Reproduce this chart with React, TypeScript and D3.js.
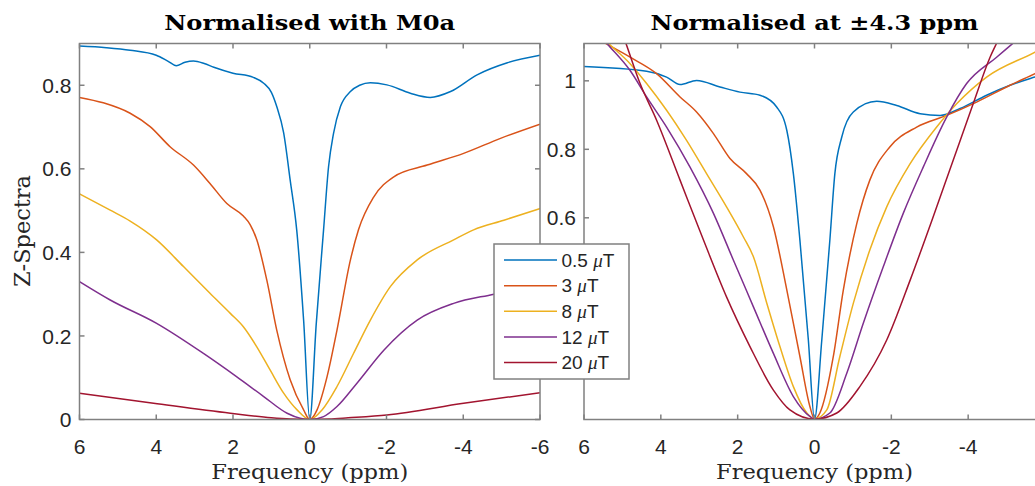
import React from "react";
import * as d3 from "d3";

type Pt = [number, number];

const freqTicks = [6, 4, 2, 0, -2, -4, -6];
const rightFreqTicks = [6, 4, 2, 0, -2, -4];
const leftYTicks = [0, 0.2, 0.4, 0.6, 0.8];
const rightYTicks = [0.6, 0.8, 1];
const seriesLabels = ["0.5", "3", "8", "12", "20"];
const seriesColors = ["#0072BD", "#D95319", "#EDB120", "#7E2F8E", "#A2142F"];

// Left panel: normalised with M0a
const leftB05: Pt[] = [[6,0.894],[5.3,0.89],[4.68,0.884],[4,0.872],[3.7,0.858],[3.48,0.847],[3.25,0.855],[3.03,0.858],[2.75,0.852],[2.5,0.843],[2.0,0.829],[1.47,0.819],[1.2,0.805],[1.0,0.783],[0.86,0.749],[0.68,0.686],[0.51,0.573],[0.34,0.454],[0.16,0.238],[0,0],[-0.17,0.23],[-0.36,0.454],[-0.49,0.605],[-0.62,0.685],[-0.8,0.749],[-1.06,0.785],[-1.3,0.8],[-1.58,0.806],[-2.01,0.801],[-2.62,0.781],[-3.14,0.771],[-3.67,0.785],[-4.36,0.825],[-5.15,0.854],[-6,0.872]];
const leftO3: Pt[] = [[6,0.771],[5.38,0.758],[4.68,0.733],[4.16,0.701],[3.64,0.653],[3.03,0.609],[2.6,0.565],[2.16,0.517],[1.73,0.487],[1.55,0.466],[1.38,0.43],[1.12,0.334],[0.86,0.214],[0.51,0.095],[0.16,0.023],[0,0],[-0.19,0.023],[-0.45,0.102],[-0.71,0.214],[-1.06,0.382],[-1.27,0.454],[-1.67,0.533],[-2.19,0.581],[-3.06,0.609],[-4.01,0.637],[-4.97,0.673],[-6,0.707]];
const leftY8: Pt[] = [[6,0.54],[5.2,0.501],[4.68,0.475],[3.99,0.43],[3.29,0.366],[2.6,0.302],[2.07,0.254],[1.73,0.222],[1.38,0.174],[1.03,0.118],[0.68,0.063],[0.33,0.023],[0,0],[-0.32,0.023],[-0.71,0.079],[-1.14,0.158],[-1.58,0.238],[-2.1,0.318],[-2.8,0.382],[-3.75,0.43],[-4.27,0.454],[-5.06,0.477],[-6,0.505]];
const leftP12: Pt[] = [[6,0.33],[5.2,0.286],[3.99,0.23],[2.77,0.158],[1.9,0.102],[1.2,0.055],[0.59,0.015],[0.25,0.003],[0,0],[-0.36,0.007],[-0.71,0.031],[-1.23,0.087],[-1.93,0.166],[-2.8,0.238],[-3.75,0.278],[-4.8,0.3],[-6,0.325]];
const leftR20: Pt[] = [[6,0.063],[4.07,0.039],[2.07,0.015],[1.0,0.004],[0.5,0.001],[0,0],[-0.5,0.001],[-1.0,0.004],[-2.01,0.011],[-4.01,0.039],[-6,0.064]];

// Right panel: normalised at ±4.3 ppm
const rightB05: Pt[] = [[6,1.042],[4.37,1.028],[3.85,1.011],[3.5,0.989],[3.07,1.001],[2.46,0.982],[1.94,0.967],[1.42,0.958],[0.98,0.923],[0.72,0.855],[0.55,0.729],[0.38,0.535],[0.16,0.243],[0,0.012],[-0.19,0.243],[-0.4,0.535],[-0.53,0.729],[-0.71,0.836],[-1.01,0.909],[-1.62,0.94],[-2.14,0.928],[-2.75,0.904],[-3.27,0.899],[-3.79,0.919],[-4.48,0.958],[-5.09,0.987],[-5.74,1.011],[-6,1.02]];
const rightO3: Pt[] = [[6,1.145],[5.45,1.11],[4.8,1.069],[4.11,1.021],[3.5,0.953],[3.07,0.909],[2.63,0.846],[2.2,0.773],[1.77,0.729],[1.42,0.681],[1.07,0.574],[0.72,0.389],[0.38,0.195],[0.12,0.049],[0,0.012],[-0.14,0.03],[-0.49,0.195],[-0.75,0.389],[-1.1,0.583],[-1.44,0.71],[-1.96,0.807],[-2.66,0.865],[-3.44,0.899],[-4.22,0.938],[-5.09,0.987],[-5.74,1.021],[-6,1.035]];
const rightY8: Pt[] = [[6,1.18],[5.37,1.11],[4.8,1.05],[4.37,0.992],[3.85,0.914],[3.33,0.826],[2.81,0.729],[2.29,0.632],[1.85,0.544],[1.59,0.486],[1.24,0.35],[0.9,0.224],[0.55,0.107],[0.2,0.03],[0,0.012],[-0.32,0.039],[-0.66,0.195],[-1.01,0.35],[-1.44,0.506],[-1.88,0.632],[-2.49,0.758],[-3.18,0.865],[-3.7,0.933],[-4.48,1.011],[-5.74,1.084],[-6,1.1]];
const rightP12: Pt[] = [[6,1.19],[5.41,1.11],[4.8,1.03],[4.37,0.953],[3.85,0.865],[3.24,0.748],[2.63,0.613],[2.11,0.476],[1.59,0.34],[1.07,0.204],[0.55,0.078],[0.12,0.02],[0,0.012],[-0.4,0.03],[-0.84,0.146],[-1.27,0.292],[-1.79,0.457],[-2.31,0.613],[-2.83,0.748],[-3.44,0.894],[-3.96,0.992],[-4.74,1.069],[-5.17,1.11],[-6,1.19]];
const rightR20: Pt[] = [[6,1.44],[4.91,1.11],[4.54,0.992],[4.11,0.885],[3.5,0.71],[2.89,0.535],[2.29,0.369],[1.68,0.224],[1.07,0.097],[0.64,0.039],[0,0.012],[-0.58,0.03],[-1.18,0.107],[-1.88,0.243],[-2.49,0.418],[-3.09,0.603],[-3.61,0.768],[-4.13,0.933],[-4.57,1.069],[-4.74,1.11],[-6,1.5]];

const leftSeries = [leftB05, leftO3, leftY8, leftP12, leftR20];
const rightSeries = [rightB05, rightO3, rightY8, rightP12, rightR20];

const AXIS = "#808080";
const TEXT = "#262626";
const SANS = "'Liberation Sans', Arial, Helvetica, sans-serif";
const SERIF = "'DejaVu Serif', 'Liberation Serif', Georgia, serif";

type PanelProps = {
  id: string;
  x0: number; x1: number; y0: number; y1: number;
  yDomain: [number, number];
  xTicks: number[];
  yTicks: number[];
  series: Pt[][];
  title: string;
  titleLen: number;
};

function Panel({ id, x0, x1, y0, y1, yDomain, xTicks, yTicks, series, title, titleLen }: PanelProps) {
  const x = d3.scaleLinear().domain([6, -6]).range([x0, x1]);
  const y = d3.scaleLinear().domain(yDomain).range([y1, y0]);
  const line = d3.line<Pt>().x((d) => x(d[0])).y((d) => y(d[1])).curve(d3.curveMonotoneX);
  const tl = 5;
  const cx = (x0 + x1) / 2;
  return (
    <g>
      <defs>
        <clipPath id={id}>
          <rect x={x0} y={y0} width={x1 - x0} height={y1 - y0} />
        </clipPath>
      </defs>
      <g clipPath={`url(#${id})`}>
        {series.map((s, i) => (
          <path key={i} d={line(s) || ""} fill="none" stroke={seriesColors[i]} strokeWidth={1.5} />
        ))}
      </g>
      <rect x={x0} y={y0} width={x1 - x0} height={y1 - y0} fill="none" stroke={AXIS} strokeWidth={1.5} />
      {xTicks.map((t) => (
        <g key={"x" + t}>
          <line x1={x(t)} x2={x(t)} y1={y1} y2={y1 - tl} stroke={AXIS} strokeWidth={1.5} />
          <line x1={x(t)} x2={x(t)} y1={y0} y2={y0 + tl} stroke={AXIS} strokeWidth={1.5} />
          <text x={x(t)} y={454} textAnchor="middle" fontFamily={SANS} fontSize={21} fill={TEXT}>{String(t)}</text>
        </g>
      ))}
      {yTicks.map((t) => (
        <g key={"y" + t}>
          <line x1={x0} x2={x0 + tl} y1={y(t)} y2={y(t)} stroke={AXIS} strokeWidth={1.5} />
          <line x1={x1} x2={x1 - tl} y1={y(t)} y2={y(t)} stroke={AXIS} strokeWidth={1.5} />
          <text x={x0 - 8} y={y(t)} dy="0.36em" textAnchor="end" fontFamily={SANS} fontSize={21} fill={TEXT}>{String(t)}</text>
        </g>
      ))}
      <text x={cx} y={30} textAnchor="middle" fontFamily={SERIF} fontWeight="bold" fontSize={20} fill="#000" textLength={titleLen} lengthAdjust="spacingAndGlyphs">{title}</text>
      <text x={cx} y={479} textAnchor="middle" fontFamily={SERIF} fontSize={21} fill={TEXT} textLength={197} lengthAdjust="spacingAndGlyphs">Frequency (ppm)</text>
    </g>
  );
}

export default function App() {
  const legX = 494, legY = 244, legW = 135, legH = 135;
  const rowY = d3.scaleLinear().domain([0, 4]).range([260, 362.5]);
  return (
    <svg width={1035} height={486} style={{ position: "absolute", left: 0, top: 0, background: "#fff" }}>
      <rect x={0} y={0} width={1035} height={486} fill="#fff" />
      <Panel id="clipL" x0={79.5} x1={540} y0={43.5} y1={419.5} yDomain={[0, 0.9]} xTicks={freqTicks} yTicks={leftYTicks}
        series={leftSeries} title="Normalised with M0a" titleLen={291} />
      <Panel id="clipR" x0={584} x1={1045} y0={43.5} y1={419.5} yDomain={[0.011, 1.109]} xTicks={rightFreqTicks} yTicks={rightYTicks}
        series={rightSeries} title="Normalised at ±4.3 ppm" titleLen={328} />
      <text transform="translate(30,231) rotate(-90)" textAnchor="middle" fontFamily={SERIF} fontSize={22} fill={TEXT} textLength={112} lengthAdjust="spacingAndGlyphs">Z-Spectra</text>
      <g>
        <rect x={legX} y={legY} width={legW} height={legH} fill="#fff" stroke={AXIS} strokeWidth={1.5} />
        {seriesLabels.map((lab, i) => (
          <g key={lab}>
            <line x1={504} x2={557} y1={rowY(i)} y2={rowY(i)} stroke={seriesColors[i]} strokeWidth={1.5} />
            <text x={561.5} y={rowY(i)} dy="0.36em" fontFamily={SANS} fontSize={19} fill={TEXT}>
              {lab + " "}
              <tspan fontFamily="'Liberation Serif', serif" fontStyle="italic">μ</tspan>
              T
            </text>
          </g>
        ))}
      </g>
    </svg>
  );
}
